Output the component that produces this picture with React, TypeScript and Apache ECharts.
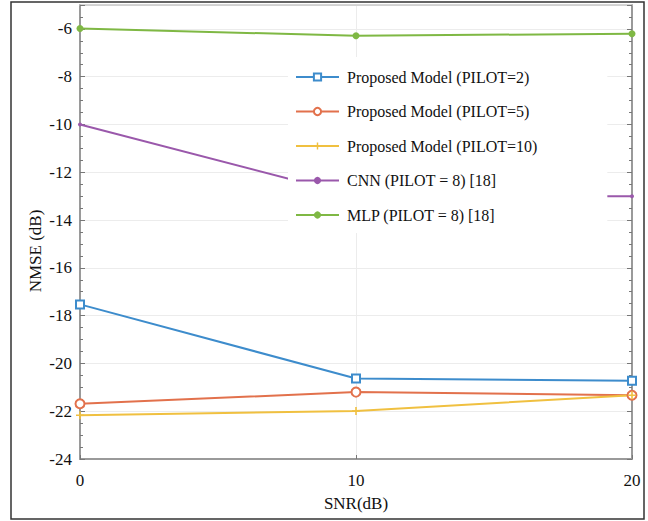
import React, { useEffect, useRef } from "react";
import * as echarts from "echarts";

const snr = [0, 10, 20];
const pilot2 = [-17.53, -20.63, -20.72];
const pilot5 = [-21.69, -21.2, -21.33];
const pilot10 = [-22.17, -21.99, -21.33];
const cnn = [-10.0, -13.0, -13.0];
const mlp = [-5.98, -6.29, -6.2];

const seriesNames = [
  "Proposed Model (PILOT=2)",
  "Proposed Model (PILOT=5)",
  "Proposed Model (PILOT=10)",
  "CNN (PILOT = 8) [18]",
  "MLP (PILOT = 8) [18]",
];

const yTitle = "NMSE (dB)";
const xTitle = "SNR(dB)";

const FONT = "'Liberation Serif', 'Times New Roman', serif";

export default function App() {
  const ref = useRef<HTMLDivElement>(null);
  useEffect(() => {
    if (!ref.current) return;
    const chart = echarts.init(ref.current, null, { renderer: "svg" });
    const pts = (arr: number[]) => snr.map((x, i) => [x, arr[i]]);
    const axisLineStyle = { color: "#9a9a9a", width: 2 };
    const yCommon = {
      type: "value",
      min: -24,
      max: -5,
      interval: 2,
      axisLine: { show: true, onZero: false, lineStyle: axisLineStyle },
      axisTick: { show: true, inside: true, length: 5, lineStyle: { color: "#777" } },
      minorTick: { show: true, splitNumber: 4, length: 3, lineStyle: { color: "#777" } },
    };
    chart.setOption({
      animation: false,
      backgroundColor: "#ffffff",
      textStyle: { fontFamily: FONT },
      grid: { left: 80, right: 16, top: 5, bottom: 62, containLabel: false },
      graphic: [
        {
          type: "rect",
          shape: { x: 11, y: 2, width: 633, height: 517 },
          style: { fill: "none", stroke: "#333", lineWidth: 1.5 },
          silent: true,
        },
        {
          type: "text",
          x: 35,
          y: 251,
          rotation: Math.PI / 2,
          style: {
            text: yTitle,
            font: `17px ${FONT}`,
            fill: "#111",
            align: "center",
            verticalAlign: "middle",
          },
          silent: true,
        },
      ],
      legend: {
        left: 288,
        top: 57,
        orient: "vertical",
        itemWidth: 43,
        itemHeight: 9,
        itemGap: 18.5,
        padding: [12, 70, 10, 7],
        backgroundColor: "#ffffff",
        data: seriesNames,
        textStyle: { fontFamily: FONT, fontSize: 16, color: "#111", padding: [0, 0, 0, 3] },
      },
      xAxis: [
        {
          type: "value",
          min: 0,
          max: 20,
          interval: 10,
          name: xTitle,
          nameLocation: "middle",
          nameGap: 36,
          nameTextStyle: { fontFamily: FONT, fontSize: 17, color: "#111" },
          axisLine: { show: true, onZero: false, lineStyle: axisLineStyle },
          axisTick: { show: true, inside: true, length: 4, lineStyle: { color: "#777" } },
          axisLabel: { fontFamily: FONT, fontSize: 17, color: "#111", margin: 13 },
          splitLine: { show: true, lineStyle: { color: "#ececec", width: 1 } },
        },
        {
          type: "value",
          position: "top",
          min: 0,
          max: 20,
          interval: 10,
          axisLine: { show: true, onZero: false, lineStyle: { color: "#c8c8c8", width: 1.5 } },
          axisTick: { show: false },
          axisLabel: { show: false },
          splitLine: { show: false },
        },
      ],
      yAxis: [
        {
          ...yCommon,
          axisLabel: {
            fontFamily: FONT,
            fontSize: 17,
            color: "#111",
            margin: 8,
            showMaxLabel: false,
          },
          splitLine: { show: true, lineStyle: { color: "#ececec", width: 1 } },
        },
        {
          ...yCommon,
          position: "right",
          axisLabel: { show: false },
          splitLine: { show: false },
        },
      ],
      series: [
        {
          name: seriesNames[0],
          type: "line",
          data: pts(pilot2),
          symbol: "emptyRect",
          symbolSize: 8,
          color: "#3d8ccc",
          lineStyle: { width: 2 },
          itemStyle: { borderWidth: 2 },
        },
        {
          name: seriesNames[1],
          type: "line",
          data: pts(pilot5),
          symbol: "emptyCircle",
          symbolSize: 9,
          color: "#e2714c",
          lineStyle: { width: 2 },
          itemStyle: { borderWidth: 2 },
        },
        {
          name: seriesNames[2],
          type: "line",
          data: pts(pilot10),
          symbol: "path://M4,0H6V4H10V6H6V10H4V6H0V4H4Z",
          symbolSize: 8,
          color: "#f0c040",
          lineStyle: { width: 2 },
        },
        {
          name: seriesNames[3],
          type: "line",
          data: pts(cnn),
          symbol: "circle",
          symbolSize: 4,
          color: "#9a58ab",
          lineStyle: { width: 2 },
        },
        {
          name: seriesNames[4],
          type: "line",
          data: pts(mlp),
          symbol: "circle",
          symbolSize: 7,
          color: "#7fb844",
          lineStyle: { width: 2 },
        },
      ],
    });
    return () => chart.dispose();
  }, []);
  return (
    <div
      ref={ref}
      style={{ position: "fixed", left: 0, top: 0, width: 648, height: 521, background: "#fff" }}
    />
  );
}
